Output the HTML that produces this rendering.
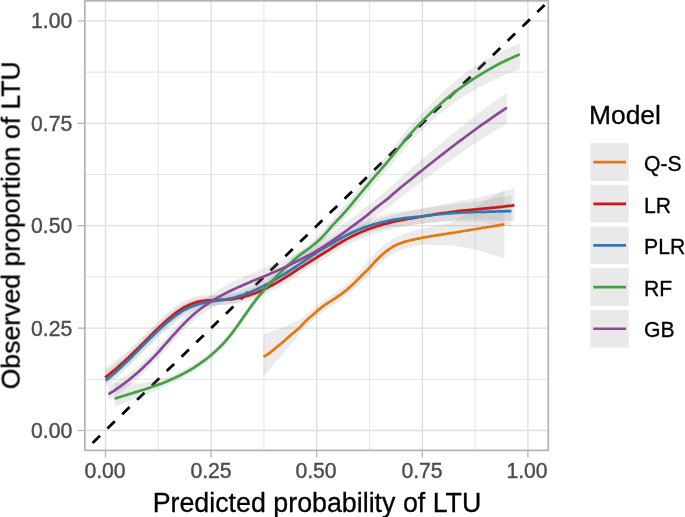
<!DOCTYPE html><html><head><meta charset="utf-8"><title>Calibration</title>
<style>html,body{margin:0;padding:0;background:#fff}#c{position:relative;width:685px;height:517px;overflow:hidden;background:#fff;font-family:"Liberation Sans",sans-serif;}.t{position:absolute;white-space:nowrap;line-height:1;will-change:transform;font-family:"Liberation Sans",sans-serif;}.tk{font-size:21.2px;color:#4d4d4d;-webkit-text-stroke:0.4px #4d4d4d}.ti{font-size:26.8px;color:#000;-webkit-text-stroke:0.3px #000}.lg{font-size:21.2px;color:#000;-webkit-text-stroke:0.3px #000}</style></head><body><div id="c">
<svg width="685" height="517" viewBox="0 0 685 517" style="position:absolute;left:0;top:0">
<rect x="0" y="0" width="685" height="517" fill="#fff"/>
<line x1="158.30" x2="158.30" y1="0.8" y2="450.35" stroke="#dedede" stroke-width="0.8"/>
<line y1="379.30" y2="379.30" x1="84.85" x2="548.3" stroke="#dedede" stroke-width="0.8"/>
<line x1="263.90" x2="263.90" y1="0.8" y2="450.35" stroke="#dedede" stroke-width="0.8"/>
<line y1="276.90" y2="276.90" x1="84.85" x2="548.3" stroke="#dedede" stroke-width="0.8"/>
<line x1="369.50" x2="369.50" y1="0.8" y2="450.35" stroke="#dedede" stroke-width="0.8"/>
<line y1="174.50" y2="174.50" x1="84.85" x2="548.3" stroke="#dedede" stroke-width="0.8"/>
<line x1="475.10" x2="475.10" y1="0.8" y2="450.35" stroke="#dedede" stroke-width="0.8"/>
<line y1="72.10" y2="72.10" x1="84.85" x2="548.3" stroke="#dedede" stroke-width="0.8"/>
<line x1="105.50" x2="105.50" y1="0.8" y2="450.35" stroke="#dedede" stroke-width="1.3"/>
<line y1="430.50" y2="430.50" x1="84.85" x2="548.3" stroke="#dedede" stroke-width="1.3"/>
<line x1="211.10" x2="211.10" y1="0.8" y2="450.35" stroke="#dedede" stroke-width="1.3"/>
<line y1="328.10" y2="328.10" x1="84.85" x2="548.3" stroke="#dedede" stroke-width="1.3"/>
<line x1="316.70" x2="316.70" y1="0.8" y2="450.35" stroke="#dedede" stroke-width="1.3"/>
<line y1="225.70" y2="225.70" x1="84.85" x2="548.3" stroke="#dedede" stroke-width="1.3"/>
<line x1="422.30" x2="422.30" y1="0.8" y2="450.35" stroke="#dedede" stroke-width="1.3"/>
<line y1="123.30" y2="123.30" x1="84.85" x2="548.3" stroke="#dedede" stroke-width="1.3"/>
<line x1="527.90" x2="527.90" y1="0.8" y2="450.35" stroke="#dedede" stroke-width="1.3"/>
<line y1="20.90" y2="20.90" x1="84.85" x2="548.3" stroke="#dedede" stroke-width="1.3"/>
<clipPath id="cp"><rect x="84.85" y="0.8" width="463.44999999999993" height="449.55"/></clipPath>
<g clip-path="url(#cp)">
<line x1="92.6" y1="442.9" x2="544.6" y2="5.0" stroke="#000" stroke-width="2.8" stroke-dasharray="10.32 10.32"/>
<path d="M263.5,334.4 L265.0,334.1 L266.5,333.6 L268.0,333.1 L269.6,332.6 L271.1,331.9 L272.6,331.2 L274.1,330.5 L275.6,329.9 L277.1,329.4 L278.7,328.8 L280.2,328.3 L281.7,327.8 L283.2,327.3 L284.7,326.7 L286.2,325.9 L287.7,325.2 L289.3,324.5 L290.8,323.8 L292.3,323.1 L293.8,322.5 L295.3,321.8 L296.8,321.2 L298.3,320.4 L299.9,319.5 L301.4,318.5 L302.9,317.4 L304.4,316.0 L305.9,314.5 L307.4,313.2 L309.0,312.0 L310.5,310.8 L312.0,309.6 L313.5,308.5 L315.0,307.2 L316.5,305.8 L318.0,304.5 L319.6,303.4 L321.1,302.2 L322.6,301.0 L324.1,299.8 L325.6,298.7 L327.1,297.7 L328.6,296.7 L330.2,295.8 L331.7,294.8 L333.2,293.8 L334.7,292.8 L336.2,291.8 L337.7,290.7 L339.3,289.7 L340.8,288.6 L342.3,287.4 L343.8,286.2 L345.3,285.0 L346.8,283.7 L348.3,282.4 L349.9,281.1 L351.4,279.6 L352.9,278.0 L354.4,276.4 L355.9,274.8 L357.4,273.1 L359.0,271.4 L360.5,269.7 L362.0,268.0 L363.5,266.4 L365.0,264.8 L366.5,263.2 L368.0,261.5 L369.6,259.7 L371.1,258.0 L372.6,256.4 L374.1,254.7 L375.6,253.2 L377.1,251.6 L378.6,250.1 L380.2,248.7 L381.7,247.4 L383.2,246.1 L384.7,244.8 L386.2,243.6 L387.7,242.5 L389.3,241.4 L390.8,240.4 L392.3,239.5 L393.8,238.6 L395.3,237.9 L396.8,237.1 L398.3,236.4 L399.9,235.7 L401.4,235.1 L402.9,234.5 L404.4,233.9 L405.9,233.4 L407.4,232.9 L408.9,232.4 L410.5,231.9 L412.0,231.5 L413.5,231.0 L415.0,230.6 L416.5,230.2 L418.0,229.8 L419.6,229.4 L421.1,229.0 L422.6,228.7 L424.1,228.3 L425.6,228.0 L427.1,227.6 L428.6,227.3 L430.2,227.0 L431.7,226.6 L433.2,226.3 L434.7,226.0 L436.2,225.7 L437.7,225.4 L439.3,225.1 L440.8,224.8 L442.3,224.4 L443.8,224.1 L445.3,223.8 L446.8,223.5 L448.3,223.2 L449.9,222.9 L451.4,222.6 L452.9,222.3 L454.4,221.3 L455.9,220.2 L457.4,219.2 L458.9,218.1 L460.5,217.0 L462.0,216.0 L463.5,214.9 L465.0,213.9 L466.5,212.8 L468.0,211.7 L469.6,210.7 L471.1,209.6 L472.6,208.5 L474.1,207.5 L475.6,206.6 L477.1,205.7 L478.6,204.8 L480.2,204.0 L481.7,203.1 L483.2,202.3 L484.7,201.4 L486.2,200.5 L487.7,199.7 L489.2,198.8 L490.8,198.0 L492.3,197.1 L493.8,196.3 L495.3,195.4 L496.8,194.6 L498.3,193.8 L499.9,192.9 L501.4,192.1 L502.9,191.2 L504.4,190.4 L504.4,258.4 L502.9,257.9 L501.4,257.5 L499.9,257.0 L498.3,256.5 L496.8,256.1 L495.3,255.6 L493.8,255.2 L492.3,254.7 L490.8,254.3 L489.2,253.8 L487.7,253.4 L486.2,252.9 L484.7,252.5 L483.2,252.0 L481.7,251.6 L480.2,251.1 L478.6,250.7 L477.1,250.3 L475.6,249.8 L474.1,249.4 L472.6,249.1 L471.1,248.9 L469.6,248.6 L468.0,248.3 L466.5,248.0 L465.0,247.8 L463.5,247.5 L462.0,247.2 L460.5,246.9 L458.9,246.7 L457.4,246.4 L455.9,246.1 L454.4,245.8 L452.9,245.5 L451.4,245.5 L449.9,245.5 L448.3,245.4 L446.8,245.4 L445.3,245.3 L443.8,245.3 L442.3,245.2 L440.8,245.2 L439.3,245.1 L437.7,245.1 L436.2,245.0 L434.7,245.0 L433.2,245.0 L431.7,244.9 L430.2,244.9 L428.6,244.9 L427.1,244.8 L425.6,244.8 L424.1,244.8 L422.6,244.8 L421.1,245.0 L419.6,245.3 L418.0,245.6 L416.5,245.9 L415.0,246.2 L413.5,246.6 L412.0,246.9 L410.5,247.3 L408.9,247.7 L407.4,248.1 L405.9,248.5 L404.4,248.9 L402.9,249.4 L401.4,249.9 L399.9,250.5 L398.3,251.1 L396.8,251.7 L395.3,252.4 L393.8,253.2 L392.3,254.0 L390.8,255.0 L389.3,256.0 L387.7,257.1 L386.2,258.3 L384.7,259.5 L383.2,260.8 L381.7,262.1 L380.2,263.5 L378.6,265.0 L377.1,266.5 L375.6,268.0 L374.1,269.7 L372.6,271.3 L371.1,273.0 L369.6,274.7 L368.0,276.2 L366.5,277.7 L365.0,279.1 L363.5,280.4 L362.0,281.8 L360.5,283.2 L359.0,284.7 L357.4,286.2 L355.9,287.7 L354.4,289.1 L352.9,290.5 L351.4,291.8 L349.9,293.1 L348.3,294.4 L346.8,295.6 L345.3,296.8 L343.8,298.0 L342.3,299.1 L340.8,300.2 L339.3,301.3 L337.7,302.3 L336.2,303.3 L334.7,304.3 L333.2,305.3 L331.7,306.2 L330.2,307.1 L328.6,308.0 L327.1,308.9 L325.6,309.9 L324.1,310.9 L322.6,312.1 L321.1,313.2 L319.6,314.4 L318.0,315.6 L316.5,316.9 L315.0,318.3 L313.5,319.6 L312.0,320.7 L310.5,321.9 L309.0,323.2 L307.4,324.4 L305.9,325.8 L304.4,327.2 L302.9,328.8 L301.4,331.0 L299.9,333.2 L298.3,335.2 L296.8,337.2 L295.3,339.0 L293.8,340.7 L292.3,342.5 L290.8,344.3 L289.3,346.2 L287.7,348.1 L286.2,349.9 L284.7,351.8 L283.2,353.6 L281.7,355.3 L280.2,357.0 L278.7,358.8 L277.1,360.5 L275.6,362.3 L274.1,364.0 L272.6,365.9 L271.1,367.7 L269.6,369.5 L268.0,371.3 L266.5,372.9 L265.0,374.5 L263.5,376.0Z" fill="rgba(153,153,153,0.2)" stroke="none"/>
<path d="M105.1,367.9 L107.7,366.3 L110.2,364.5 L112.8,362.7 L115.4,360.8 L118.0,358.9 L120.5,356.9 L123.1,354.8 L125.7,352.7 L128.3,350.5 L130.8,348.2 L133.4,345.7 L136.0,343.2 L138.6,340.7 L141.1,338.1 L143.7,335.6 L146.3,333.0 L148.9,330.4 L151.4,327.9 L154.0,325.3 L156.6,322.8 L159.2,320.3 L161.7,317.9 L164.3,315.5 L166.9,313.2 L169.5,311.0 L172.0,308.9 L174.6,306.8 L177.2,305.1 L179.8,303.4 L182.3,301.9 L184.9,300.6 L187.5,299.4 L190.0,298.4 L192.6,297.5 L195.2,296.8 L197.8,296.2 L200.3,295.7 L202.9,295.4 L205.5,295.3 L208.1,295.3 L210.6,295.3 L213.2,295.2 L215.8,295.0 L218.4,294.9 L220.9,294.8 L223.5,294.6 L226.1,294.5 L228.7,294.3 L231.2,294.0 L233.8,293.6 L236.4,293.2 L239.0,292.6 L241.5,292.0 L244.1,291.3 L246.7,290.5 L249.3,289.7 L251.8,288.8 L254.4,287.8 L257.0,286.8 L259.6,285.7 L262.1,284.5 L264.7,283.3 L267.3,282.0 L269.8,280.6 L272.4,279.3 L275.0,277.8 L277.6,276.4 L280.1,274.8 L282.7,273.3 L285.3,271.7 L287.9,270.1 L290.4,268.4 L293.0,266.7 L295.6,265.0 L298.2,263.2 L300.7,261.5 L303.3,259.8 L305.9,258.1 L308.5,256.5 L311.0,254.9 L313.6,253.3 L316.2,251.6 L318.8,250.0 L321.3,248.4 L323.9,246.8 L326.5,245.2 L329.1,243.5 L331.6,241.8 L334.2,240.2 L336.8,238.5 L339.4,237.0 L341.9,235.4 L344.5,233.9 L347.1,232.5 L349.7,231.1 L352.2,229.7 L354.8,228.5 L357.4,227.2 L359.9,226.0 L362.5,224.9 L365.1,223.9 L367.7,222.8 L370.2,221.9 L372.8,220.9 L375.4,220.0 L378.0,219.2 L380.5,218.4 L383.1,217.6 L385.7,216.9 L388.3,216.2 L390.8,215.5 L393.4,214.9 L396.0,214.3 L398.6,213.7 L401.1,213.1 L403.7,212.5 L406.3,211.9 L408.9,211.3 L411.4,210.7 L414.0,210.1 L416.6,209.6 L419.2,209.0 L421.7,208.5 L424.3,208.0 L426.9,207.5 L429.5,207.0 L432.0,206.5 L434.6,206.0 L437.2,205.5 L439.7,205.1 L442.3,204.5 L444.9,203.9 L447.5,203.4 L450.0,202.8 L452.6,202.3 L455.2,201.8 L457.8,201.3 L460.3,200.8 L462.9,200.3 L465.5,199.9 L468.1,199.4 L470.6,199.0 L473.2,198.5 L475.8,198.0 L478.4,197.4 L480.9,196.8 L483.5,196.2 L486.1,195.5 L488.7,194.9 L491.2,194.3 L493.8,193.6 L496.4,193.0 L499.0,192.3 L501.5,191.7 L504.1,191.0 L506.7,190.3 L509.3,189.6 L511.8,188.9 L514.4,188.2 L514.4,221.2 L511.8,221.2 L509.3,221.1 L506.7,221.0 L504.1,220.9 L501.5,220.8 L499.0,220.7 L496.4,220.6 L493.8,220.5 L491.2,220.3 L488.7,220.2 L486.1,220.1 L483.5,219.9 L480.9,219.8 L478.4,219.6 L475.8,219.5 L473.2,219.4 L470.6,219.5 L468.1,219.6 L465.5,219.7 L462.9,219.9 L460.3,220.0 L457.8,220.2 L455.2,220.3 L452.6,220.5 L450.0,220.7 L447.5,220.9 L444.9,221.1 L442.3,221.3 L439.7,221.5 L437.2,221.8 L434.6,222.1 L432.0,222.4 L429.5,222.7 L426.9,223.0 L424.3,223.3 L421.7,223.7 L419.2,224.0 L416.6,224.4 L414.0,224.8 L411.4,225.3 L408.9,225.7 L406.3,226.2 L403.7,226.7 L401.1,227.2 L398.6,227.7 L396.0,228.2 L393.4,228.8 L390.8,229.3 L388.3,230.0 L385.7,230.6 L383.1,231.3 L380.5,232.0 L378.0,232.8 L375.4,233.5 L372.8,234.4 L370.2,235.3 L367.7,236.2 L365.1,237.2 L362.5,238.2 L359.9,239.2 L357.4,240.4 L354.8,241.5 L352.2,242.8 L349.7,244.1 L347.1,245.4 L344.5,246.8 L341.9,248.3 L339.4,249.7 L336.8,251.3 L334.2,252.9 L331.6,254.5 L329.1,256.1 L326.5,257.7 L323.9,259.2 L321.3,260.8 L318.8,262.4 L316.2,263.9 L313.6,265.5 L311.0,267.1 L308.5,268.7 L305.9,270.2 L303.3,271.8 L300.7,273.5 L298.2,275.2 L295.6,276.9 L293.0,278.6 L290.4,280.2 L287.9,281.8 L285.3,283.4 L282.7,285.0 L280.1,286.5 L277.6,287.9 L275.0,289.4 L272.4,290.8 L269.8,292.1 L267.3,293.4 L264.7,294.6 L262.1,295.8 L259.6,296.9 L257.0,298.0 L254.4,299.0 L251.8,299.9 L249.3,300.8 L246.7,301.6 L244.1,302.3 L241.5,302.9 L239.0,303.4 L236.4,303.9 L233.8,304.3 L231.2,304.6 L228.7,304.8 L226.1,304.9 L223.5,305.0 L220.9,305.1 L218.4,305.1 L215.8,305.2 L213.2,305.3 L210.6,305.3 L208.1,305.5 L205.5,305.8 L202.9,306.2 L200.3,306.8 L197.8,307.6 L195.2,308.5 L192.6,309.5 L190.0,310.7 L187.5,312.0 L184.9,313.5 L182.3,315.1 L179.8,316.9 L177.2,318.8 L174.6,320.8 L172.0,322.9 L169.5,325.0 L166.9,327.2 L164.3,329.5 L161.7,331.9 L159.2,334.3 L156.6,336.8 L154.0,339.3 L151.4,341.9 L148.9,344.4 L146.3,347.0 L143.7,349.6 L141.1,352.1 L138.6,354.7 L136.0,357.2 L133.4,359.7 L130.8,362.2 L128.3,364.7 L125.7,367.0 L123.1,369.3 L120.5,371.6 L118.0,373.8 L115.4,376.0 L112.8,378.1 L110.2,380.1 L107.7,382.0 L105.1,383.9Z" fill="rgba(153,153,153,0.2)" stroke="none"/>
<path d="M105.8,370.9 L108.4,369.1 L110.9,367.2 L113.5,365.3 L116.0,363.3 L118.6,361.2 L121.1,359.1 L123.7,357.0 L126.2,354.8 L128.8,352.5 L131.3,350.2 L133.9,347.6 L136.4,345.1 L139.0,342.5 L141.5,340.0 L144.1,337.4 L146.6,334.9 L149.2,332.3 L151.7,329.8 L154.3,327.3 L156.8,324.9 L159.4,322.5 L161.9,320.1 L164.5,317.8 L167.0,315.6 L169.6,313.4 L172.1,311.4 L174.7,309.4 L177.2,307.7 L179.8,306.1 L182.3,304.6 L184.9,303.3 L187.4,302.1 L190.0,301.1 L192.5,300.2 L195.1,299.4 L197.6,298.7 L200.2,298.2 L202.7,297.7 L205.3,297.3 L207.8,297.0 L210.4,296.6 L212.9,296.2 L215.5,295.8 L218.0,295.4 L220.6,295.0 L223.1,294.5 L225.7,294.1 L228.2,293.6 L230.8,293.0 L233.3,292.4 L235.9,291.7 L238.4,290.9 L241.0,290.1 L243.6,289.2 L246.1,288.2 L248.7,287.2 L251.2,286.2 L253.8,285.1 L256.3,283.9 L258.9,282.7 L261.4,281.4 L264.0,280.1 L266.5,278.7 L269.1,277.4 L271.6,275.9 L274.2,274.4 L276.7,272.9 L279.3,271.4 L281.8,269.8 L284.4,268.2 L286.9,266.6 L289.5,264.9 L292.0,263.3 L294.6,261.6 L297.1,259.8 L299.7,258.1 L302.2,256.4 L304.8,254.6 L307.3,252.9 L309.9,251.1 L312.4,249.4 L315.0,247.7 L317.5,245.9 L320.1,244.2 L322.6,242.7 L325.2,241.2 L327.7,239.7 L330.3,238.2 L332.8,236.6 L335.4,235.1 L337.9,233.6 L340.5,232.1 L343.0,230.7 L345.6,229.3 L348.1,228.0 L350.7,226.7 L353.2,225.5 L355.8,224.3 L358.3,223.2 L360.9,222.2 L363.4,221.2 L366.0,220.2 L368.5,219.3 L371.1,218.5 L373.6,217.7 L376.2,216.9 L378.8,216.2 L381.3,215.5 L383.9,214.9 L386.4,214.3 L389.0,213.7 L391.5,213.2 L394.1,212.7 L396.6,212.3 L399.2,211.9 L401.7,211.6 L404.3,211.2 L406.8,210.9 L409.4,210.6 L411.9,210.4 L414.5,210.1 L417.0,209.8 L419.6,209.6 L422.1,209.2 L424.7,208.7 L427.2,208.3 L429.8,207.8 L432.3,207.4 L434.9,207.0 L437.4,206.6 L440.0,206.2 L442.5,205.8 L445.1,205.4 L447.6,205.1 L450.2,204.7 L452.7,204.3 L455.3,204.0 L457.8,203.7 L460.4,203.4 L462.9,203.1 L465.5,202.8 L468.0,202.5 L470.6,202.3 L473.1,202.0 L475.7,201.7 L478.2,201.2 L480.8,200.8 L483.3,200.3 L485.9,199.9 L488.4,199.4 L491.0,199.0 L493.5,198.5 L496.1,198.1 L498.6,197.6 L501.2,197.2 L503.7,196.7 L506.3,196.3 L508.8,195.8 L511.4,195.4 L511.4,226.8 L508.8,226.4 L506.3,226.1 L503.7,225.7 L501.2,225.3 L498.6,225.0 L496.1,224.6 L493.5,224.2 L491.0,223.9 L488.4,223.5 L485.9,223.2 L483.3,222.8 L480.8,222.4 L478.2,222.1 L475.7,221.7 L473.1,221.6 L470.6,221.5 L468.0,221.5 L465.5,221.5 L462.9,221.5 L460.4,221.5 L457.8,221.6 L455.3,221.6 L452.7,221.7 L450.2,221.8 L447.6,221.9 L445.1,222.0 L442.5,222.1 L440.0,222.2 L437.4,222.4 L434.9,222.6 L432.3,222.8 L429.8,223.1 L427.2,223.3 L424.7,223.6 L422.1,223.8 L419.6,224.1 L417.0,224.3 L414.5,224.5 L411.9,224.7 L409.4,224.9 L406.8,225.1 L404.3,225.3 L401.7,225.6 L399.2,225.9 L396.6,226.2 L394.1,226.6 L391.5,227.0 L389.0,227.5 L386.4,228.0 L383.9,228.6 L381.3,229.2 L378.8,229.8 L376.2,230.5 L373.6,231.2 L371.1,231.9 L368.5,232.7 L366.0,233.6 L363.4,234.5 L360.9,235.4 L358.3,236.4 L355.8,237.4 L353.2,238.6 L350.7,239.7 L348.1,240.9 L345.6,242.2 L343.0,243.6 L340.5,244.9 L337.9,246.4 L335.4,247.8 L332.8,249.3 L330.3,250.8 L327.7,252.2 L325.2,253.7 L322.6,255.1 L320.1,256.6 L317.5,258.3 L315.0,259.9 L312.4,261.6 L309.9,263.3 L307.3,265.0 L304.8,266.7 L302.2,268.4 L299.7,270.1 L297.1,271.8 L294.6,273.5 L292.0,275.1 L289.5,276.7 L286.9,278.4 L284.4,279.9 L281.8,281.5 L279.3,283.0 L276.7,284.5 L274.2,286.0 L271.6,287.4 L269.1,288.8 L266.5,290.1 L264.0,291.4 L261.4,292.7 L258.9,293.9 L256.3,295.1 L253.8,296.2 L251.2,297.3 L248.7,298.3 L246.1,299.3 L243.6,300.1 L241.0,301.0 L238.4,301.7 L235.9,302.4 L233.3,303.1 L230.8,303.6 L228.2,304.1 L225.7,304.5 L223.1,304.9 L220.6,305.3 L218.0,305.6 L215.5,306.0 L212.9,306.3 L210.4,306.7 L207.8,307.2 L205.3,307.8 L202.7,308.5 L200.2,309.3 L197.6,310.1 L195.1,311.1 L192.5,312.2 L190.0,313.3 L187.4,314.7 L184.9,316.2 L182.3,317.8 L179.8,319.5 L177.2,321.4 L174.7,323.4 L172.1,325.4 L169.6,327.4 L167.0,329.6 L164.5,331.8 L161.9,334.1 L159.4,336.5 L156.8,338.9 L154.3,341.3 L151.7,343.8 L149.2,346.3 L146.6,348.9 L144.1,351.4 L141.5,354.0 L139.0,356.5 L136.4,359.1 L133.9,361.6 L131.3,364.2 L128.8,366.7 L126.2,369.1 L123.7,371.5 L121.1,373.8 L118.6,376.2 L116.0,378.4 L113.5,380.6 L110.9,382.8 L108.4,384.9 L105.8,386.9Z" fill="rgba(153,153,153,0.2)" stroke="none"/>
<path d="M114.6,382.7 L117.1,382.8 L119.7,382.9 L122.2,383.0 L124.8,383.1 L127.3,383.2 L129.9,383.3 L132.4,383.5 L135.0,383.6 L137.5,383.7 L140.1,383.8 L142.6,383.3 L145.2,382.7 L147.7,382.1 L150.3,381.5 L152.8,380.9 L155.4,380.3 L157.9,379.6 L160.5,378.9 L163.0,378.2 L165.6,377.4 L168.1,376.6 L170.7,375.8 L173.2,374.7 L175.7,373.5 L178.3,372.4 L180.8,371.1 L183.4,369.9 L185.9,368.5 L188.5,367.1 L191.0,365.7 L193.6,364.2 L196.1,362.6 L198.7,361.0 L201.2,359.2 L203.8,357.4 L206.3,355.4 L208.9,353.4 L211.4,351.3 L214.0,349.1 L216.5,346.7 L219.1,344.2 L221.6,341.6 L224.2,338.9 L226.7,336.0 L229.3,332.9 L231.8,329.7 L234.3,326.3 L236.9,322.8 L239.4,319.2 L242.0,315.6 L244.5,311.9 L247.1,308.3 L249.6,304.7 L252.2,301.2 L254.7,297.8 L257.3,294.5 L259.8,291.3 L262.4,288.1 L264.9,285.1 L267.5,282.2 L270.0,279.4 L272.6,276.6 L275.1,273.9 L277.7,271.3 L280.2,268.8 L282.8,266.3 L285.3,263.9 L287.9,261.5 L290.4,259.2 L292.9,256.9 L295.5,254.7 L298.0,252.5 L300.6,250.5 L303.1,248.5 L305.7,246.5 L308.2,244.5 L310.8,242.4 L313.3,240.2 L315.9,237.9 L318.4,235.6 L321.0,233.0 L323.5,230.2 L326.1,227.3 L328.6,224.1 L331.2,220.9 L333.7,218.0 L336.3,215.2 L338.8,212.4 L341.4,209.5 L343.9,206.5 L346.4,203.5 L349.0,200.4 L351.5,197.2 L354.1,194.1 L356.6,191.0 L359.2,187.9 L361.7,184.7 L364.3,181.6 L366.8,178.5 L369.4,175.4 L371.9,172.3 L374.5,169.3 L377.0,166.3 L379.6,163.4 L382.1,160.4 L384.7,157.4 L387.2,154.4 L389.8,151.3 L392.3,148.1 L394.9,144.9 L397.4,141.6 L400.0,138.4 L402.5,135.2 L405.0,132.1 L407.6,129.1 L410.1,126.1 L412.7,123.2 L415.2,120.3 L417.8,117.6 L420.3,114.9 L422.9,112.2 L425.4,109.6 L428.0,107.0 L430.5,104.4 L433.1,101.8 L435.6,99.2 L438.2,96.7 L440.7,94.2 L443.3,91.8 L445.8,89.4 L448.4,87.1 L450.9,84.9 L453.5,82.7 L456.0,80.6 L458.6,78.5 L461.1,76.5 L463.6,74.5 L466.2,72.5 L468.7,70.6 L471.3,68.8 L473.8,67.0 L476.4,65.4 L478.9,63.9 L481.5,62.3 L484.0,60.8 L486.6,59.4 L489.1,57.9 L491.7,56.5 L494.2,55.2 L496.8,53.8 L499.3,52.5 L501.9,51.2 L504.4,50.0 L507.0,48.9 L509.5,47.7 L512.1,46.6 L514.6,45.5 L517.2,44.4 L519.7,43.3 L519.7,69.0 L517.2,70.0 L514.6,70.9 L512.1,71.9 L509.5,72.9 L507.0,73.9 L504.4,75.0 L501.9,76.1 L499.3,77.2 L496.8,78.4 L494.2,79.6 L491.7,80.9 L489.1,82.1 L486.6,83.4 L484.0,84.8 L481.5,86.2 L478.9,87.6 L476.4,89.0 L473.8,90.5 L471.3,91.9 L468.7,93.5 L466.2,95.0 L463.6,96.6 L461.1,98.3 L458.6,99.9 L456.0,101.7 L453.5,103.4 L450.9,105.3 L448.4,107.2 L445.8,109.1 L443.3,111.1 L440.7,113.2 L438.2,115.3 L435.6,117.5 L433.1,119.7 L430.5,122.0 L428.0,124.3 L425.4,126.6 L422.9,129.1 L420.3,131.6 L417.8,134.3 L415.2,136.9 L412.7,139.7 L410.1,142.5 L407.6,145.3 L405.0,148.3 L402.5,151.3 L400.0,154.4 L397.4,157.5 L394.9,160.6 L392.3,163.7 L389.8,166.8 L387.2,169.8 L384.7,172.8 L382.1,175.7 L379.6,178.5 L377.0,181.4 L374.5,184.3 L371.9,187.2 L369.4,190.2 L366.8,193.2 L364.3,196.2 L361.7,199.2 L359.2,202.2 L356.6,205.3 L354.1,208.3 L351.5,211.3 L349.0,214.3 L346.4,217.1 L343.9,219.8 L341.4,222.5 L338.8,225.1 L336.3,227.6 L333.7,230.1 L331.2,232.7 L328.6,235.5 L326.1,238.4 L323.5,241.0 L321.0,243.5 L318.4,245.8 L315.9,247.8 L313.3,249.8 L310.8,251.7 L308.2,253.5 L305.7,255.2 L303.1,256.9 L300.6,258.5 L298.0,260.5 L295.5,262.7 L292.9,264.9 L290.4,267.1 L287.9,269.4 L285.3,271.7 L282.8,274.1 L280.2,276.6 L277.7,279.1 L275.1,281.7 L272.6,284.3 L270.0,287.1 L267.5,289.9 L264.9,292.8 L262.4,295.8 L259.8,298.8 L257.3,302.0 L254.7,305.3 L252.2,308.7 L249.6,312.2 L247.1,315.7 L244.5,319.4 L242.0,323.0 L239.4,326.6 L236.9,330.2 L234.3,333.7 L231.8,337.0 L229.3,340.2 L226.7,343.3 L224.2,346.1 L221.6,348.9 L219.1,351.4 L216.5,353.9 L214.0,356.2 L211.4,358.4 L208.9,360.5 L206.3,362.5 L203.8,364.4 L201.2,366.2 L198.7,368.0 L196.1,369.7 L193.6,371.4 L191.0,373.0 L188.5,374.5 L185.9,376.0 L183.4,377.4 L180.8,378.8 L178.3,380.1 L175.7,381.3 L173.2,382.6 L170.7,383.7 L168.1,385.0 L165.6,386.2 L163.0,387.4 L160.5,388.5 L157.9,389.6 L155.4,390.7 L152.8,391.8 L150.3,392.8 L147.7,393.8 L145.2,394.8 L142.6,395.8 L140.1,396.8 L137.5,397.8 L135.0,398.8 L132.4,399.8 L129.9,400.7 L127.3,401.7 L124.8,402.7 L122.2,403.7 L119.7,404.7 L117.1,405.7 L114.6,406.7Z" fill="rgba(153,153,153,0.2)" stroke="none"/>
<path d="M108.5,385.0 L111.0,383.8 L113.5,382.6 L116.0,381.3 L118.5,379.9 L121.0,378.5 L123.5,377.1 L126.0,375.5 L128.5,373.9 L131.0,372.1 L133.6,370.0 L136.1,367.9 L138.6,365.7 L141.1,363.4 L143.6,361.0 L146.1,358.6 L148.6,356.2 L151.1,353.7 L153.6,351.1 L156.1,348.5 L158.6,345.8 L161.1,343.0 L163.6,340.2 L166.1,337.4 L168.6,334.5 L171.1,331.7 L173.6,328.8 L176.1,325.9 L178.6,323.1 L181.1,320.3 L183.7,317.6 L186.2,315.0 L188.7,312.5 L191.2,310.1 L193.7,307.8 L196.2,305.6 L198.7,303.5 L201.2,301.5 L203.7,299.6 L206.2,297.8 L208.7,296.0 L211.2,294.4 L213.7,292.7 L216.2,291.2 L218.7,289.7 L221.2,288.2 L223.7,286.8 L226.2,285.4 L228.7,284.1 L231.2,282.8 L233.8,281.6 L236.3,280.3 L238.8,279.1 L241.3,278.0 L243.8,276.8 L246.3,275.7 L248.8,274.7 L251.3,273.6 L253.8,272.5 L256.3,271.5 L258.8,270.5 L261.3,269.4 L263.8,268.4 L266.3,267.3 L268.8,266.2 L271.3,265.1 L273.8,264.0 L276.3,262.9 L278.8,261.8 L281.3,260.6 L283.9,259.4 L286.4,258.2 L288.9,257.0 L291.4,255.8 L293.9,254.5 L296.4,253.2 L298.9,251.9 L301.4,250.6 L303.9,249.4 L306.4,248.1 L308.9,246.8 L311.4,245.4 L313.9,244.0 L316.4,242.5 L318.9,240.9 L321.4,239.4 L323.9,237.8 L326.4,236.1 L328.9,234.5 L331.4,232.8 L334.0,231.1 L336.5,229.3 L339.0,227.5 L341.5,225.7 L344.0,223.8 L346.5,222.0 L349.0,220.1 L351.5,218.2 L354.0,216.3 L356.5,214.5 L359.0,212.6 L361.5,210.8 L364.0,208.8 L366.5,206.8 L369.0,204.8 L371.5,202.6 L374.0,200.5 L376.5,198.5 L379.0,196.6 L381.5,194.6 L384.1,192.6 L386.6,190.6 L389.1,188.6 L391.6,186.2 L394.1,183.9 L396.6,181.5 L399.1,179.3 L401.6,177.0 L404.1,174.8 L406.6,172.6 L409.1,170.4 L411.6,168.2 L414.1,166.1 L416.6,163.9 L419.1,161.7 L421.6,159.6 L424.1,157.5 L426.6,155.4 L429.1,153.3 L431.6,151.2 L434.2,149.1 L436.7,147.0 L439.2,144.9 L441.7,142.8 L444.2,140.7 L446.7,138.7 L449.2,136.6 L451.7,134.6 L454.2,132.5 L456.7,130.5 L459.2,128.5 L461.7,126.5 L464.2,124.5 L466.7,122.5 L469.2,120.5 L471.7,118.5 L474.2,116.6 L476.7,114.6 L479.2,112.7 L481.7,110.9 L484.3,109.0 L486.8,107.1 L489.3,105.3 L491.8,103.4 L494.3,101.6 L496.8,99.8 L499.3,98.0 L501.8,96.2 L504.3,94.5 L506.8,92.7 L506.8,123.7 L504.3,125.2 L501.8,126.7 L499.3,128.2 L496.8,129.7 L494.3,131.3 L491.8,132.8 L489.3,134.4 L486.8,136.0 L484.3,137.6 L481.7,139.2 L479.2,140.8 L476.7,142.4 L474.2,144.1 L471.7,145.8 L469.2,147.5 L466.7,149.2 L464.2,150.9 L461.7,152.6 L459.2,154.4 L456.7,156.1 L454.2,157.9 L451.7,159.7 L449.2,161.5 L446.7,163.3 L444.2,165.1 L441.7,166.9 L439.2,168.7 L436.7,170.6 L434.2,172.4 L431.6,174.3 L429.1,176.1 L426.6,178.0 L424.1,179.9 L421.6,181.7 L419.1,183.6 L416.6,185.4 L414.1,187.3 L411.6,189.1 L409.1,191.0 L406.6,192.8 L404.1,194.7 L401.6,196.6 L399.1,198.5 L396.6,200.4 L394.1,202.4 L391.6,204.4 L389.1,206.6 L386.6,208.6 L384.1,210.5 L381.5,212.4 L379.0,214.4 L376.5,216.3 L374.0,218.3 L371.5,220.4 L369.0,222.5 L366.5,224.5 L364.0,226.5 L361.5,228.4 L359.0,230.2 L356.5,232.0 L354.0,233.8 L351.5,235.6 L349.0,237.5 L346.5,239.4 L344.0,241.2 L341.5,243.0 L339.0,244.8 L336.5,246.6 L334.0,248.3 L331.4,250.0 L328.9,251.6 L326.4,253.3 L323.9,254.9 L321.4,256.4 L318.9,258.0 L316.4,259.5 L313.9,260.9 L311.4,262.3 L308.9,263.7 L306.4,264.9 L303.9,266.2 L301.4,267.4 L298.9,268.6 L296.4,269.9 L293.9,271.2 L291.4,272.4 L288.9,273.6 L286.4,274.8 L283.9,276.0 L281.3,277.1 L278.8,278.2 L276.3,279.4 L273.8,280.4 L271.3,281.5 L268.8,282.6 L266.3,283.6 L263.8,284.6 L261.3,285.6 L258.8,286.6 L256.3,287.7 L253.8,288.7 L251.3,289.7 L248.8,290.7 L246.3,291.7 L243.8,292.8 L241.3,293.8 L238.8,294.8 L236.3,295.9 L233.8,297.0 L231.2,298.1 L228.7,299.2 L226.2,300.4 L223.7,301.7 L221.2,302.9 L218.7,304.3 L216.2,305.6 L213.7,307.1 L211.2,308.6 L208.7,310.1 L206.2,311.7 L203.7,313.4 L201.2,315.2 L198.7,317.0 L196.2,319.0 L193.7,321.0 L191.2,323.2 L188.7,325.5 L186.2,327.8 L183.7,330.3 L181.1,332.9 L178.6,335.5 L176.1,338.2 L173.6,341.0 L171.1,343.7 L168.6,346.5 L166.1,349.4 L163.6,352.2 L161.1,355.0 L158.6,357.8 L156.1,360.5 L153.6,363.1 L151.1,365.7 L148.6,368.2 L146.1,370.6 L143.6,373.0 L141.1,375.4 L138.6,377.7 L136.1,379.9 L133.6,382.0 L131.0,384.1 L128.5,386.2 L126.0,388.3 L123.5,390.3 L121.0,392.2 L118.5,394.1 L116.0,395.9 L113.5,397.6 L111.0,399.3 L108.5,401.0Z" fill="rgba(153,153,153,0.2)" stroke="none"/>
<path d="M263.5,356.7 L265.0,355.9 L266.5,355.0 L268.0,354.0 L269.6,353.0 L271.1,351.8 L272.6,350.6 L274.1,349.4 L275.6,348.1 L277.1,346.8 L278.7,345.5 L280.2,344.2 L281.7,343.0 L283.2,341.7 L284.7,340.4 L286.2,339.0 L287.7,337.7 L289.3,336.4 L290.8,335.1 L292.3,333.8 L293.8,332.6 L295.3,331.3 L296.8,330.1 L298.3,328.7 L299.9,327.2 L301.4,325.6 L302.9,324.0 L304.4,322.4 L305.9,320.9 L307.4,319.5 L309.0,318.1 L310.5,316.8 L312.0,315.6 L313.5,314.3 L315.0,313.0 L316.5,311.5 L318.0,310.2 L319.6,308.9 L321.1,307.7 L322.6,306.5 L324.1,305.4 L325.6,304.3 L327.1,303.3 L328.6,302.4 L330.2,301.4 L331.7,300.5 L333.2,299.5 L334.7,298.6 L336.2,297.6 L337.7,296.5 L339.3,295.5 L340.8,294.4 L342.3,293.3 L343.8,292.1 L345.3,290.9 L346.8,289.7 L348.3,288.4 L349.9,287.1 L351.4,285.7 L352.9,284.3 L354.4,282.9 L355.9,281.4 L357.4,279.9 L359.0,278.3 L360.5,276.7 L362.0,275.2 L363.5,273.7 L365.0,272.3 L366.5,270.9 L368.0,269.3 L369.6,267.7 L371.1,266.0 L372.6,264.3 L374.1,262.7 L375.6,261.0 L377.1,259.5 L378.6,258.0 L380.2,256.5 L381.7,255.1 L383.2,253.8 L384.7,252.5 L386.2,251.3 L387.7,250.1 L389.3,249.0 L390.8,248.0 L392.3,247.0 L393.8,246.2 L395.3,245.4 L396.8,244.7 L398.3,244.1 L399.9,243.5 L401.4,242.9 L402.9,242.4 L404.4,241.9 L405.9,241.5 L407.4,241.1 L408.9,240.7 L410.5,240.3 L412.0,239.9 L413.5,239.6 L415.0,239.2 L416.5,238.9 L418.0,238.6 L419.6,238.3 L421.1,238.0 L422.6,237.7 L424.1,237.4 L425.6,237.2 L427.1,236.9 L428.6,236.6 L430.2,236.4 L431.7,236.1 L433.2,235.9 L434.7,235.6 L436.2,235.4 L437.7,235.1 L439.3,234.9 L440.8,234.7 L442.3,234.4 L443.8,234.2 L445.3,234.0 L446.8,233.7 L448.3,233.5 L449.9,233.2 L451.4,233.0 L452.9,232.8 L454.4,232.5 L455.9,232.3 L457.4,232.0 L458.9,231.8 L460.5,231.5 L462.0,231.3 L463.5,231.0 L465.0,230.8 L466.5,230.5 L468.0,230.3 L469.6,230.0 L471.1,229.8 L472.6,229.5 L474.1,229.3 L475.6,229.0 L477.1,228.8 L478.6,228.5 L480.2,228.3 L481.7,228.0 L483.2,227.7 L484.7,227.5 L486.2,227.3 L487.7,227.0 L489.2,226.8 L490.8,226.5 L492.3,226.3 L493.8,226.0 L495.3,225.8 L496.8,225.6 L498.3,225.3 L499.9,225.1 L501.4,224.9 L502.9,224.6 L504.4,224.4" fill="none" stroke="#e8760a" stroke-width="2.7" stroke-linejoin="round"/>
<path d="M105.1,377.4 L107.7,375.5 L110.2,373.5 L112.8,371.4 L115.4,369.3 L118.0,367.1 L120.5,364.8 L123.1,362.5 L125.7,360.1 L128.3,357.7 L130.8,355.2 L133.4,352.7 L136.0,350.2 L138.6,347.7 L141.1,345.1 L143.7,342.6 L146.3,340.0 L148.9,337.4 L151.4,334.9 L154.0,332.3 L156.6,329.8 L159.2,327.3 L161.7,324.9 L164.3,322.5 L166.9,320.2 L169.5,318.0 L172.0,315.9 L174.6,313.8 L177.2,311.9 L179.8,310.2 L182.3,308.5 L184.9,307.0 L187.5,305.7 L190.0,304.5 L192.6,303.5 L195.2,302.6 L197.8,301.9 L200.3,301.3 L202.9,300.8 L205.5,300.5 L208.1,300.4 L210.6,300.3 L213.2,300.2 L215.8,300.1 L218.4,300.0 L220.9,299.9 L223.5,299.8 L226.1,299.7 L228.7,299.5 L231.2,299.3 L233.8,299.0 L236.4,298.5 L239.0,298.0 L241.5,297.4 L244.1,296.8 L246.7,296.0 L249.3,295.2 L251.8,294.3 L254.4,293.4 L257.0,292.4 L259.6,291.3 L262.1,290.1 L264.7,288.9 L267.3,287.7 L269.8,286.4 L272.4,285.0 L275.0,283.6 L277.6,282.1 L280.1,280.7 L282.7,279.1 L285.3,277.5 L287.9,275.9 L290.4,274.3 L293.0,272.6 L295.6,270.9 L298.2,269.2 L300.7,267.5 L303.3,265.8 L305.9,264.2 L308.5,262.6 L311.0,261.0 L313.6,259.4 L316.2,257.8 L318.8,256.2 L321.3,254.6 L323.9,253.0 L326.5,251.4 L329.1,249.8 L331.6,248.1 L334.2,246.5 L336.8,244.9 L339.4,243.4 L341.9,241.8 L344.5,240.4 L347.1,238.9 L349.7,237.6 L352.2,236.3 L354.8,235.0 L357.4,233.8 L359.9,232.6 L362.5,231.6 L365.1,230.5 L367.7,229.5 L370.2,228.6 L372.8,227.7 L375.4,226.8 L378.0,226.0 L380.5,225.2 L383.1,224.4 L385.7,223.7 L388.3,223.1 L390.8,222.4 L393.4,221.8 L396.0,221.2 L398.6,220.7 L401.1,220.2 L403.7,219.7 L406.3,219.2 L408.9,218.7 L411.4,218.3 L414.0,217.8 L416.6,217.4 L419.2,217.0 L421.7,216.6 L424.3,216.1 L426.9,215.7 L429.5,215.2 L432.0,214.8 L434.6,214.3 L437.2,213.9 L439.7,213.5 L442.3,213.2 L444.9,212.8 L447.5,212.5 L450.0,212.1 L452.6,211.8 L455.2,211.5 L457.8,211.2 L460.3,210.9 L462.9,210.6 L465.5,210.3 L468.1,210.1 L470.6,209.9 L473.2,209.6 L475.8,209.4 L478.4,209.1 L480.9,208.9 L483.5,208.7 L486.1,208.4 L488.7,208.2 L491.2,207.9 L493.8,207.6 L496.4,207.4 L499.0,207.1 L501.5,206.8 L504.1,206.5 L506.7,206.2 L509.3,205.9 L511.8,205.6 L514.4,205.2" fill="none" stroke="#cf1717" stroke-width="2.7" stroke-linejoin="round"/>
<path d="M105.8,380.4 L108.4,378.3 L110.9,376.2 L113.5,374.0 L116.0,371.7 L118.6,369.4 L121.1,367.0 L123.7,364.6 L126.2,362.2 L128.8,359.7 L131.3,357.2 L133.9,354.6 L136.4,352.1 L139.0,349.5 L141.5,347.0 L144.1,344.4 L146.6,341.9 L149.2,339.3 L151.7,336.8 L154.3,334.3 L156.8,331.9 L159.4,329.5 L161.9,327.1 L164.5,324.8 L167.0,322.6 L169.6,320.4 L172.1,318.4 L174.7,316.4 L177.2,314.5 L179.8,312.8 L182.3,311.2 L184.9,309.7 L187.4,308.4 L190.0,307.2 L192.5,306.2 L195.1,305.2 L197.6,304.4 L200.2,303.7 L202.7,303.1 L205.3,302.6 L207.8,302.1 L210.4,301.6 L212.9,301.2 L215.5,300.9 L218.0,300.5 L220.6,300.1 L223.1,299.7 L225.7,299.3 L228.2,298.8 L230.8,298.3 L233.3,297.7 L235.9,297.1 L238.4,296.3 L241.0,295.5 L243.6,294.7 L246.1,293.7 L248.7,292.8 L251.2,291.7 L253.8,290.6 L256.3,289.5 L258.9,288.3 L261.4,287.1 L264.0,285.8 L266.5,284.4 L269.1,283.1 L271.6,281.7 L274.2,280.2 L276.7,278.7 L279.3,277.2 L281.8,275.7 L284.4,274.1 L286.9,272.5 L289.5,270.8 L292.0,269.2 L294.6,267.5 L297.1,265.8 L299.7,264.1 L302.2,262.4 L304.8,260.7 L307.3,259.0 L309.9,257.2 L312.4,255.5 L315.0,253.8 L317.5,252.1 L320.1,250.4 L322.6,248.9 L325.2,247.4 L327.7,245.9 L330.3,244.5 L332.8,243.0 L335.4,241.5 L337.9,240.0 L340.5,238.5 L343.0,237.1 L345.6,235.8 L348.1,234.5 L350.7,233.2 L353.2,232.0 L355.8,230.9 L358.3,229.8 L360.9,228.8 L363.4,227.8 L366.0,226.9 L368.5,226.0 L371.1,225.2 L373.6,224.4 L376.2,223.7 L378.8,223.0 L381.3,222.4 L383.9,221.7 L386.4,221.2 L389.0,220.6 L391.5,220.1 L394.1,219.7 L396.6,219.3 L399.2,218.9 L401.7,218.6 L404.3,218.2 L406.8,217.9 L409.4,217.6 L411.9,217.4 L414.5,217.1 L417.0,216.8 L419.6,216.6 L422.1,216.3 L424.7,216.0 L427.2,215.6 L429.8,215.3 L432.3,215.0 L434.9,214.7 L437.4,214.4 L440.0,214.2 L442.5,214.0 L445.1,213.7 L447.6,213.5 L450.2,213.3 L452.7,213.2 L455.3,213.0 L457.8,212.8 L460.4,212.7 L462.9,212.5 L465.5,212.4 L468.0,212.3 L470.6,212.2 L473.1,212.1 L475.7,212.0 L478.2,212.0 L480.8,211.9 L483.3,211.8 L485.9,211.8 L488.4,211.7 L491.0,211.6 L493.5,211.6 L496.1,211.5 L498.6,211.4 L501.2,211.4 L503.7,211.3 L506.3,211.2 L508.8,211.1 L511.4,211.1" fill="none" stroke="#3776ad" stroke-width="2.7" stroke-linejoin="round"/>
<path d="M114.6,398.7 L117.1,397.9 L119.7,397.1 L122.2,396.3 L124.8,395.5 L127.3,394.7 L129.9,393.9 L132.4,393.2 L135.0,392.4 L137.5,391.6 L140.1,390.8 L142.6,390.0 L145.2,389.2 L147.7,388.4 L150.3,387.5 L152.8,386.6 L155.4,385.7 L157.9,384.8 L160.5,383.9 L163.0,382.9 L165.6,381.9 L168.1,380.8 L170.7,379.7 L173.2,378.6 L175.7,377.4 L178.3,376.2 L180.8,375.0 L183.4,373.6 L185.9,372.3 L188.5,370.8 L191.0,369.3 L193.6,367.8 L196.1,366.2 L198.7,364.5 L201.2,362.7 L203.8,360.9 L206.3,359.0 L208.9,357.0 L211.4,354.9 L214.0,352.6 L216.5,350.3 L219.1,347.8 L221.6,345.2 L224.2,342.5 L226.7,339.6 L229.3,336.6 L231.8,333.4 L234.3,330.0 L236.9,326.5 L239.4,322.9 L242.0,319.3 L244.5,315.6 L247.1,312.0 L249.6,308.4 L252.2,304.9 L254.7,301.5 L257.3,298.2 L259.8,295.0 L262.4,292.0 L264.9,289.0 L267.5,286.0 L270.0,283.2 L272.6,280.5 L275.1,277.8 L277.7,275.2 L280.2,272.7 L282.8,270.2 L285.3,267.8 L287.9,265.4 L290.4,263.2 L292.9,260.9 L295.5,258.7 L298.0,256.5 L300.6,254.5 L303.1,252.7 L305.7,250.9 L308.2,249.0 L310.8,247.0 L313.3,245.0 L315.9,242.9 L318.4,240.7 L321.0,238.2 L323.5,235.6 L326.1,232.9 L328.6,229.8 L331.2,226.8 L333.7,224.1 L336.3,221.4 L338.8,218.8 L341.4,216.0 L343.9,213.2 L346.4,210.3 L349.0,207.3 L351.5,204.3 L354.1,201.2 L356.6,198.1 L359.2,195.0 L361.7,192.0 L364.3,188.9 L366.8,185.8 L369.4,182.8 L371.9,179.8 L374.5,176.8 L377.0,173.9 L379.6,171.0 L382.1,168.0 L384.7,165.1 L387.2,162.1 L389.8,159.0 L392.3,155.9 L394.9,152.7 L397.4,149.6 L400.0,146.4 L402.5,143.3 L405.0,140.2 L407.6,137.2 L410.1,134.3 L412.7,131.4 L415.2,128.6 L417.8,125.9 L420.3,123.3 L422.9,120.7 L425.4,118.1 L428.0,115.6 L430.5,113.2 L433.1,110.7 L435.6,108.3 L438.2,106.0 L440.7,103.7 L443.3,101.4 L445.8,99.3 L448.4,97.1 L450.9,95.1 L453.5,93.1 L456.0,91.1 L458.6,89.2 L461.1,87.4 L463.6,85.6 L466.2,83.8 L468.7,82.1 L471.3,80.4 L473.8,78.7 L476.4,77.1 L478.9,75.5 L481.5,73.9 L484.0,72.4 L486.6,70.9 L489.1,69.4 L491.7,68.0 L494.2,66.5 L496.8,65.1 L499.3,63.8 L501.9,62.5 L504.4,61.3 L507.0,60.1 L509.5,58.9 L512.1,57.7 L514.6,56.5 L517.2,55.4 L519.7,54.3" fill="none" stroke="#46a044" stroke-width="2.7" stroke-linejoin="round"/>
<path d="M108.5,394.3 L111.0,392.7 L113.5,391.1 L116.0,389.4 L118.5,387.7 L121.0,385.9 L123.5,384.0 L126.0,382.1 L128.5,380.2 L131.0,378.1 L133.6,376.0 L136.1,373.9 L138.6,371.7 L141.1,369.4 L143.6,367.0 L146.1,364.6 L148.6,362.2 L151.1,359.7 L153.6,357.1 L156.1,354.5 L158.6,351.8 L161.1,349.0 L163.6,346.2 L166.1,343.4 L168.6,340.5 L171.1,337.7 L173.6,334.9 L176.1,332.1 L178.6,329.3 L181.1,326.6 L183.7,324.0 L186.2,321.4 L188.7,319.0 L191.2,316.6 L193.7,314.4 L196.2,312.3 L198.7,310.3 L201.2,308.3 L203.7,306.5 L206.2,304.8 L208.7,303.1 L211.2,301.5 L213.7,299.9 L216.2,298.4 L218.7,297.0 L221.2,295.6 L223.7,294.2 L226.2,292.9 L228.7,291.7 L231.2,290.5 L233.8,289.3 L236.3,288.1 L238.8,287.0 L241.3,285.9 L243.8,284.8 L246.3,283.7 L248.8,282.7 L251.3,281.6 L253.8,280.6 L256.3,279.6 L258.8,278.6 L261.3,277.5 L263.8,276.5 L266.3,275.4 L268.8,274.4 L271.3,273.3 L273.8,272.2 L276.3,271.1 L278.8,270.0 L281.3,268.9 L283.9,267.7 L286.4,266.5 L288.9,265.3 L291.4,264.1 L293.9,262.8 L296.4,261.5 L298.9,260.2 L301.4,259.0 L303.9,257.8 L306.4,256.5 L308.9,255.2 L311.4,253.9 L313.9,252.5 L316.4,251.0 L318.9,249.5 L321.4,247.9 L323.9,246.3 L326.4,244.7 L328.9,243.1 L331.4,241.4 L334.0,239.7 L336.5,237.9 L339.0,236.1 L341.5,234.3 L344.0,232.5 L346.5,230.7 L349.0,228.8 L351.5,226.9 L354.0,225.1 L356.5,223.3 L359.0,221.4 L361.5,219.6 L364.0,217.6 L366.5,215.7 L369.0,213.6 L371.5,211.5 L374.0,209.4 L376.5,207.4 L379.0,205.5 L381.5,203.5 L384.1,201.5 L386.6,199.6 L389.1,197.6 L391.6,195.3 L394.1,193.1 L396.6,191.0 L399.1,188.9 L401.6,186.8 L404.1,184.7 L406.6,182.7 L409.1,180.7 L411.6,178.7 L414.1,176.7 L416.6,174.6 L419.1,172.6 L421.6,170.7 L424.1,168.7 L426.6,166.7 L429.1,164.7 L431.6,162.7 L434.2,160.7 L436.7,158.8 L439.2,156.8 L441.7,154.9 L444.2,152.9 L446.7,151.0 L449.2,149.0 L451.7,147.1 L454.2,145.2 L456.7,143.3 L459.2,141.4 L461.7,139.6 L464.2,137.7 L466.7,135.8 L469.2,134.0 L471.7,132.2 L474.2,130.3 L476.7,128.5 L479.2,126.7 L481.7,124.9 L484.3,123.1 L486.8,121.4 L489.3,119.6 L491.8,117.9 L494.3,116.1 L496.8,114.4 L499.3,112.7 L501.8,111.0 L504.3,109.4 L506.8,107.7" fill="none" stroke="#8c4898" stroke-width="2.7" stroke-linejoin="round"/>
</g>
<rect x="84.85" y="0.8" width="463.44999999999993" height="449.55" fill="none" stroke="#b3b3b3" stroke-width="1.7"/>
<line x1="105.50" x2="105.50" y1="450.95000000000005" y2="457.45000000000005" stroke="#b3b3b3" stroke-width="1.3"/>
<line y1="430.50" y2="430.50" x1="84.25" x2="77.75" stroke="#b3b3b3" stroke-width="1.3"/>
<line x1="211.10" x2="211.10" y1="450.95000000000005" y2="457.45000000000005" stroke="#b3b3b3" stroke-width="1.3"/>
<line y1="328.10" y2="328.10" x1="84.25" x2="77.75" stroke="#b3b3b3" stroke-width="1.3"/>
<line x1="316.70" x2="316.70" y1="450.95000000000005" y2="457.45000000000005" stroke="#b3b3b3" stroke-width="1.3"/>
<line y1="225.70" y2="225.70" x1="84.25" x2="77.75" stroke="#b3b3b3" stroke-width="1.3"/>
<line x1="422.30" x2="422.30" y1="450.95000000000005" y2="457.45000000000005" stroke="#b3b3b3" stroke-width="1.3"/>
<line y1="123.30" y2="123.30" x1="84.25" x2="77.75" stroke="#b3b3b3" stroke-width="1.3"/>
<line x1="527.90" x2="527.90" y1="450.95000000000005" y2="457.45000000000005" stroke="#b3b3b3" stroke-width="1.3"/>
<line y1="20.90" y2="20.90" x1="84.25" x2="77.75" stroke="#b3b3b3" stroke-width="1.3"/>
<rect x="590.4" y="143.20" width="38.25" height="37.7" fill="#e9e9e9"/>
<line x1="593.3" x2="626.0" y1="162.15" y2="162.15" stroke="#e8760a" stroke-width="2.7"/>
<rect x="590.4" y="184.85" width="38.25" height="37.7" fill="#e9e9e9"/>
<line x1="593.3" x2="626.0" y1="203.80" y2="203.80" stroke="#cf1717" stroke-width="2.7"/>
<rect x="590.4" y="226.50" width="38.25" height="37.7" fill="#e9e9e9"/>
<line x1="593.3" x2="626.0" y1="245.45" y2="245.45" stroke="#3776ad" stroke-width="2.7"/>
<rect x="590.4" y="268.15" width="38.25" height="37.7" fill="#e9e9e9"/>
<line x1="593.3" x2="626.0" y1="287.10" y2="287.10" stroke="#46a044" stroke-width="2.7"/>
<rect x="590.4" y="309.80" width="38.25" height="37.7" fill="#e9e9e9"/>
<line x1="593.3" x2="626.0" y1="328.75" y2="328.75" stroke="#8c4898" stroke-width="2.7"/>
</svg>
<div class="t tk" style="right:612.4px;top:420.0px">0.00</div>
<div class="t tk" style="left:64.9px;width:80px;text-align:center;top:460.1px">0.00</div>
<div class="t tk" style="right:612.4px;top:317.6px">0.25</div>
<div class="t tk" style="left:170.5px;width:80px;text-align:center;top:460.1px">0.25</div>
<div class="t tk" style="right:612.4px;top:215.2px">0.50</div>
<div class="t tk" style="left:276.1px;width:80px;text-align:center;top:460.1px">0.50</div>
<div class="t tk" style="right:612.4px;top:112.8px">0.75</div>
<div class="t tk" style="left:381.7px;width:80px;text-align:center;top:460.1px">0.75</div>
<div class="t tk" style="right:612.4px;top:10.4px">1.00</div>
<div class="t tk" style="left:487.3px;width:80px;text-align:center;top:460.1px">1.00</div>
<div class="t ti" style="left:116.8px;width:400px;text-align:center;top:489.6px">Predicted probability of LTU</div>
<div class="t ti" style="left:-189px;top:212px;width:400px;text-align:center;font-size:26.65px;transform:rotate(-90deg);transform-origin:center">Observed proportion of LTU</div>
<div class="t ti" style="left:589.1px;top:102.4px;font-size:26.4px">Model</div>
<div class="t lg" style="left:643.8px;top:152.8px">Q-S</div>
<div class="t lg" style="left:643.8px;top:194.5px">LR</div>
<div class="t lg" style="left:643.8px;top:236.1px">PLR</div>
<div class="t lg" style="left:643.8px;top:277.8px">RF</div>
<div class="t lg" style="left:643.8px;top:319.4px">GB</div>
</div></body></html>
